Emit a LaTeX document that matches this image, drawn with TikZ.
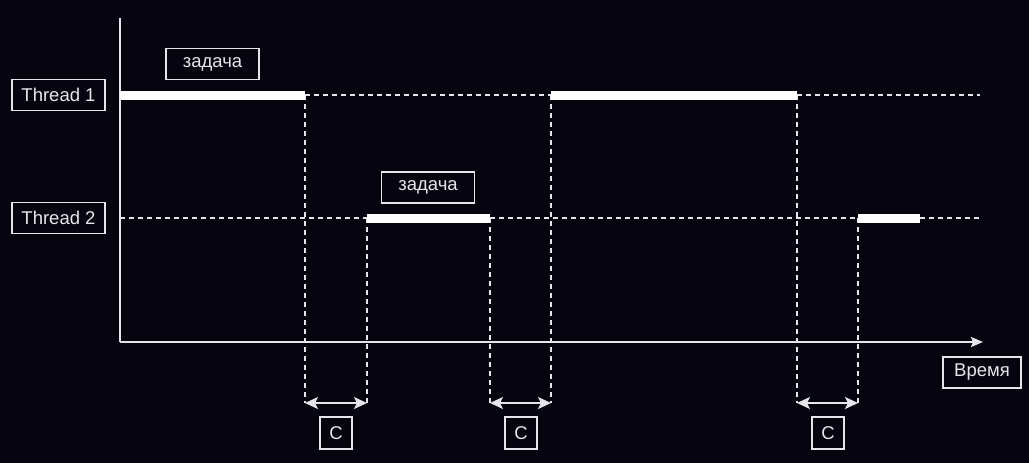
\documentclass[tikz,border=0pt]{standalone}
\usepackage{fontspec}
\setmainfont{Liberation Sans}
\usetikzlibrary{arrows.meta}
\definecolor{bg}{HTML}{06050F}
\definecolor{ln}{HTML}{E6E6EA}
\tikzset{
  lbl/.style={draw=ln, line width=1.8pt, text=ln, font=\fontsize{18.5}{21}\selectfont,
    minimum height=31pt, inner sep=0pt},
  axis/.style={draw=ln, line width=2pt},
  guide/.style={draw=ln, line width=1.6pt, dash pattern=on 5pt off 4pt},
  bar/.style={draw=white, line width=9pt, line cap=butt},
  span/.style={draw=ln, line width=1.8pt, {Stealth[length=13pt,width=12pt,inset=3pt]}-{Stealth[length=13pt,width=12pt,inset=3pt]}},
}
\begin{document}
\begin{tikzpicture}[x=1pt,y=-1pt]
\fill[bg] (0,0) rectangle (1029,463);
\useasboundingbox (0,0) rectangle (1029,463);

% coordinates
\coordinate (ytop) at (120,18);
\coordinate (o) at (120,342);
\coordinate (xend) at (983,342);
\coordinate (t1a) at (120,95);
\coordinate (t1b) at (305,95);
\coordinate (t1c) at (551,95);
\coordinate (t1d) at (797,95);
\coordinate (t1e) at (980,95);
\coordinate (t2a) at (120,218);
\coordinate (t2b) at (367,218);
\coordinate (t2c) at (490,218);
\coordinate (t2d) at (858,218);
\coordinate (t2e) at (920,218);
\coordinate (t2f) at (980,218);
\coordinate (b1) at (305,403);
\coordinate (b2) at (367,403);
\coordinate (b3) at (490,403);
\coordinate (b4) at (551,403);
\coordinate (b5) at (797,403);
\coordinate (b6) at (858,403);

% labels
\node[lbl, minimum width=93pt] (th1) at (58.5,95) {Thread 1};
\node[lbl, minimum width=93pt] (th2) at (58.5,218) {Thread 2};
\node[lbl, minimum width=93pt] (task1) at (212.5,64) {задача};
\node[lbl, minimum width=93pt] (task2) at (428,187.5) {задача};
\node[lbl, minimum width=78pt] (time) at (982,372.5) {Время};
\node[lbl, minimum width=32pt, minimum height=32pt] (c1) at (336,433) {C};
\node[lbl, minimum width=32pt, minimum height=32pt] (c2) at (521,433) {C};
\node[lbl, minimum width=32pt, minimum height=32pt] (c3) at (828,433) {C};

% dashed guides
\draw[guide] (t1b) -- (t1c);
\draw[guide] (t1d) -- (t1e);
\draw[guide] (t2a) -- (t2b);
\draw[guide] (t2c) -- (t2d);
\draw[guide] (t2e) -- (t2f);
\draw[guide] (t1b) -- (b1);
\draw[guide] (t2b) -- (b2);
\draw[guide] (t2c) -- (b3);
\draw[guide] (t1c) -- (b4);
\draw[guide] (t1d) -- (b5);
\draw[guide] (t2d) -- (b6);

% axes
\draw[axis] (ytop) -- (o);
\draw[axis, -{Stealth[length=12pt,width=10pt,inset=2pt]}] (o) -- (xend);

% bars
\draw[bar] (t1a) -- (t1b);
\draw[bar] (t1c) -- (t1d);
\draw[bar] (t2b) -- (t2c);
\draw[bar] (t2d) -- (t2e);

% spans
\draw[span] (b1) -- (b2);
\draw[span] (b3) -- (b4);
\draw[span] (b5) -- (b6);
\end{tikzpicture}
\end{document}
